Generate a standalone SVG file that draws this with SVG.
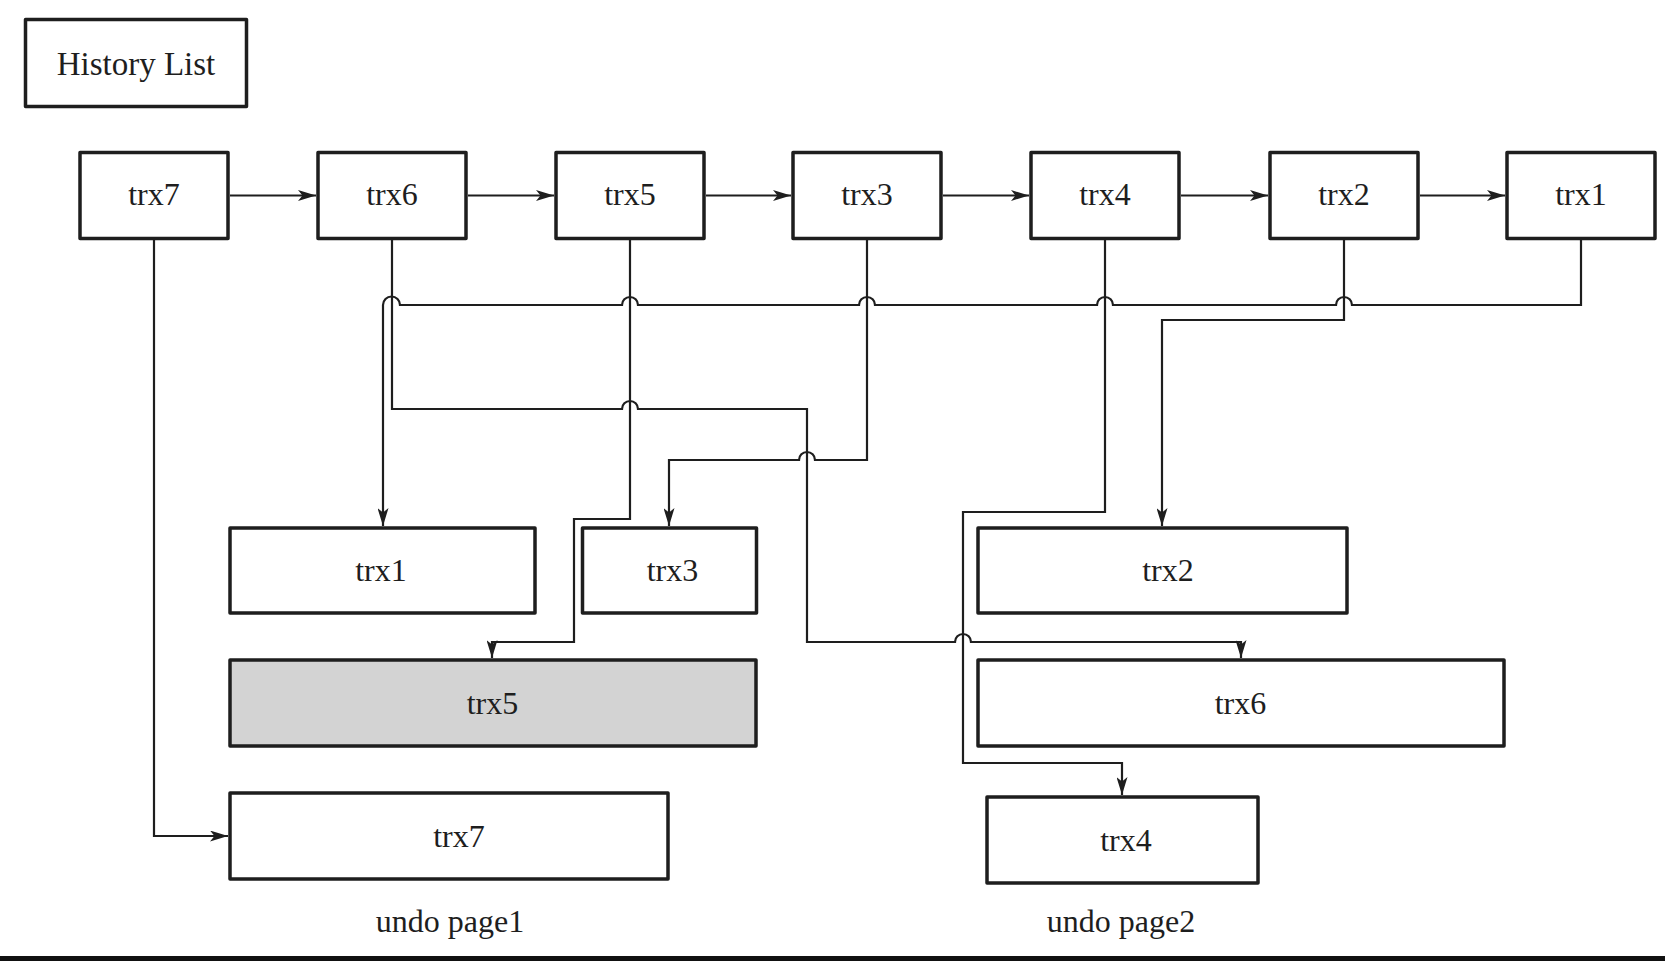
<svg xmlns="http://www.w3.org/2000/svg" width="1665" height="961" viewBox="0 0 1665 961">
  <style>
    .box { fill: #ffffff; stroke: #1e1e1e; stroke-width: 3.5; stroke-linejoin: round; }
    .shaded { fill: #d3d3d3; }
    .lbl { font-family: "Liberation Serif", "Times New Roman", serif; font-size: 32px; fill: #1e1e1e; text-anchor: middle; }
    .conn { fill: none; stroke: #1e1e1e; stroke-width: 2.2; stroke-linejoin: miter; }
  </style>
  <defs>
    <marker id="ah" viewBox="0 0 18 11" refX="18" refY="5.5" markerWidth="18" markerHeight="11" orient="auto" markerUnits="userSpaceOnUse">
      <path d="M0,0 L18,5.5 L0,11 L4.5,5.5 z" fill="#1e1e1e"/>
    </marker>
  </defs>
  <rect x="0" y="0" width="1665" height="961" fill="#ffffff"/>

  <g id="history-list">
    <rect class="box" x="25.5" y="19.5" width="221" height="87"/>
    <text class="lbl" x="136" y="75" style="font-size:33px">History List</text>
  </g>

  <g id="h-trx7"><rect class="box" x="80" y="152.5" width="148" height="86"/><text class="lbl" x="154" y="205">trx7</text></g>
  <g id="h-trx6"><rect class="box" x="318" y="152.5" width="148" height="86"/><text class="lbl" x="392" y="205">trx6</text></g>
  <g id="h-trx5"><rect class="box" x="556" y="152.5" width="148" height="86"/><text class="lbl" x="630" y="205">trx5</text></g>
  <g id="h-trx3"><rect class="box" x="793" y="152.5" width="148" height="86"/><text class="lbl" x="867" y="205">trx3</text></g>
  <g id="h-trx4"><rect class="box" x="1031" y="152.5" width="148" height="86"/><text class="lbl" x="1105" y="205">trx4</text></g>
  <g id="h-trx2"><rect class="box" x="1270" y="152.5" width="148" height="86"/><text class="lbl" x="1344" y="205">trx2</text></g>
  <g id="h-trx1"><rect class="box" x="1507" y="152.5" width="148" height="86"/><text class="lbl" x="1581" y="205">trx1</text></g>

  <g id="u-trx1"><rect class="box" x="230" y="528" width="305" height="85"/><text class="lbl" x="381" y="581">trx1</text></g>
  <g id="u-trx3"><rect class="box" x="582.5" y="528" width="174" height="85"/><text class="lbl" x="672.5" y="581">trx3</text></g>
  <g id="u-trx5"><rect class="box shaded" x="230" y="660" width="526" height="86"/><text class="lbl" x="492.5" y="713.5">trx5</text></g>
  <g id="u-trx7"><rect class="box" x="230" y="793" width="438" height="86"/><text class="lbl" x="459" y="846.5">trx7</text></g>
  <g id="u-trx2"><rect class="box" x="978" y="528" width="369" height="85"/><text class="lbl" x="1168" y="581">trx2</text></g>
  <g id="u-trx6"><rect class="box" x="978" y="660" width="526" height="86"/><text class="lbl" x="1240.5" y="713.5">trx6</text></g>
  <g id="u-trx4"><rect class="box" x="987" y="797" width="271" height="86"/><text class="lbl" x="1126" y="850.5">trx4</text></g>

  <g id="page1-label"><text class="lbl" x="450" y="931.5">undo page1</text></g>
  <g id="page2-label"><text class="lbl" x="1121" y="931.5">undo page2</text></g>

  <g id="connectors">
    <path class="conn" marker-end="url(#ah)" d="M230,195.5 H316"/>
    <path class="conn" marker-end="url(#ah)" d="M468,195.5 H554"/>
    <path class="conn" marker-end="url(#ah)" d="M706,195.5 H791"/>
    <path class="conn" marker-end="url(#ah)" d="M943,195.5 H1029"/>
    <path class="conn" marker-end="url(#ah)" d="M1181,195.5 H1268"/>
    <path class="conn" marker-end="url(#ah)" d="M1420,195.5 H1505"/>

    <path class="conn" marker-end="url(#ah)" d="M154,240 V836 H228"/>
    <path class="conn" marker-end="url(#ah)" d="M392,240 V409 H622 A8,8 0 0 1 638,409 H807 V642 H955 A8,8 0 0 1 971,642 H1241 V658"/>
    <path class="conn" marker-end="url(#ah)" d="M630,240 V519 H574 V642 H492 V658"/>
    <path class="conn" marker-end="url(#ah)" d="M867,240 V460 H815 A8,8 0 0 0 799,460 H669 V526"/>
    <path class="conn" marker-end="url(#ah)" d="M1105,240 V512 H963 V763 H1122 V795"/>
    <path class="conn" marker-end="url(#ah)" d="M1344,240 V320 H1162 V526"/>
    <path class="conn" marker-end="url(#ah)" d="M1581,240 V305 H1352 A8,8 0 0 0 1336,305 H1113 A8,8 0 0 0 1097,305 H875 A8,8 0 0 0 859,305 H638 A8,8 0 0 0 622,305 H400 A8.5,8.5 0 0 0 383,305 V526"/>
  </g>

  <rect x="0" y="956" width="1665" height="5" fill="#111111"/>
</svg>
